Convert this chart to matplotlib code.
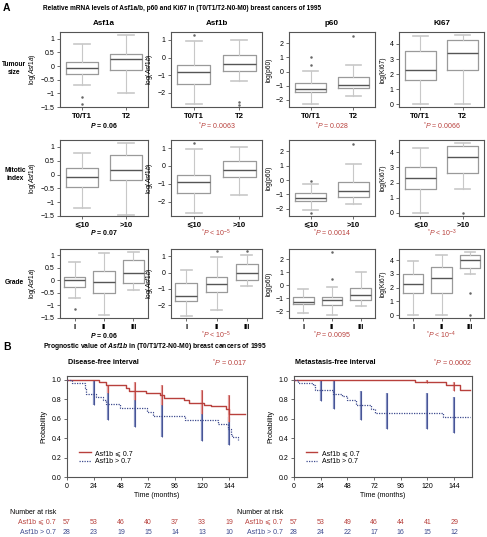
import matplotlib
matplotlib.use("Agg")
import matplotlib.pyplot as plt
from matplotlib.transforms import blended_transform_factory

plt.rcParams["font.family"] = ["Liberation Sans", "DejaVu Sans"]
plt.rcParams["mathtext.fontset"] = "custom"
plt.rcParams["mathtext.rm"] = "Liberation Sans"
plt.rcParams["mathtext.it"] = "Liberation Sans:italic"
plt.rcParams["mathtext.bf"] = "Liberation Sans:italic:bold"

W, H = 487, 537

# ---- panel A data ----
genes = ["Asf1a", "Asf1b", "p60", "Ki67"]
gene_labels = [r"log($\mathit{Asf1a}$)", r"log($\mathit{Asf1b}$)", "log(p60)", "log(Ki67)"]
row_names = ["Tumour\nsize", "Mitotic\nindex", "Grade"]
groups = [["T0/T1", "T2"], ["⩽10", ">10"], ["I", "II", "III"]]

# each box: (whislo, q1, med, q3, whishi, fliers)
size_asf1a = [(-0.7, -0.3, -0.08, 0.15, 0.8, [-1.15, -1.4]), (-1.0, -0.15, 0.25, 0.45, 1.15, [])]
size_asf1b = [(-2.65, -1.5, -0.8, -0.4, 0.95, [1.3]), (-1.35, -0.75, -0.35, 0.15, 1.0, [-2.5, -2.7])]
size_p60 = [(-2.3, -1.45, -1.25, -0.8, 0.05, [0.5, 1.0]), (-1.7, -1.15, -0.95, -0.4, 0.5, [2.5])]
size_ki67 = [(0.0, 1.6, 2.3, 3.55, 4.55, []), (0.0, 2.3, 3.4, 4.25, 4.6, [])]

mit_asf1a = [(-1.2, -0.45, -0.08, 0.22, 0.78, []), (-1.45, -0.2, 0.15, 0.72, 1.15, [])]
mit_asf1b = [(-2.65, -1.5, -0.9, -0.5, 0.95, [1.3]), (-1.6, -0.6, -0.2, 0.3, 1.05, [])]
mit_p60 = [(-2.05, -1.45, -1.25, -0.9, -0.3, [-2.3, -0.05]), (-1.65, -1.2, -0.75, -0.15, 1.1, [2.55])]
mit_ki67 = [(0.0, 1.6, 2.3, 3.0, 4.25, []), (1.6, 2.65, 3.7, 4.4, 4.6, [0.0])]

grade_asf1a = [(-0.7, -0.25, 0.0, 0.15, 0.75, [-1.15]), (-1.4, -0.5, -0.08, 0.38, 1.1, []),
               (-0.4, -0.1, 0.3, 0.8, 1.15, [])]
grade_asf1b = [(-2.65, -1.75, -1.45, -0.65, 0.15, []), (-2.3, -1.2, -0.7, -0.25, 0.95, [1.3]),
               (-0.8, -0.45, -0.05, 0.5, 1.05, [1.35])]
grade_p60 = [(-2.1, -1.45, -1.25, -0.9, -0.25, []), (-2.3, -1.5, -1.1, -0.85, -0.1, [0.5, 2.55]),
             (-1.6, -1.15, -0.7, -0.2, 1.05, [])]
grade_ki67 = [(0.0, 1.6, 2.3, 3.0, 3.9, []), (0.0, 1.6, 2.7, 3.5, 4.35, []),
              (3.0, 3.4, 4.0, 4.4, 4.6, [1.6, 0.0])]

boxes = [[size_asf1a, size_asf1b, size_p60, size_ki67],
         [mit_asf1a, mit_asf1b, mit_p60, mit_ki67],
         [grade_asf1a, grade_asf1b, grade_p60, grade_ki67]]

p_size = [r"$\mathbf{P}$ = 0.06", r"$^{*}\mathit{P}$ = 0.0063", r"$^{*}\mathit{P}$ = 0.028", r"$^{*}\mathit{P}$ = 0.0066"]
p_mit = [r"$\mathbf{P}$ = 0.07", r"$^{*}\mathit{P}$ < 10$^{-5}$", r"$^{*}\mathit{P}$ = 0.0014", r"$^{*}\mathit{P}$ < 10$^{-3}$"]
p_grade = [r"$\mathbf{P}$ = 0.06", r"$^{*}\mathit{P}$ < 10$^{-5}$", r"$^{*}\mathit{P}$ = 0.0095", r"$^{*}\mathit{P}$ < 10$^{-4}$"]
p_vals = [p_size, p_mit, p_grade]
p_sig = [[False, True, True, True], [False, True, True, True], [False, True, True, True]]

ylims = [(-1.5, 1.25), (-2.8, 1.45), (-2.5, 2.8), (-0.2, 4.8)]
yticks = [[-1.5, -1, -0.5, 0, 0.5, 1], [-2, -1, 0, 1], [-2, -1, 0, 1, 2], [0, 1, 2, 3, 4]]

# ---- panel B data ----
months = [0, 24, 48, 72, 96, 120, 144]
ci_times = [24, 36, 60, 84, 120, 144]

dfi_low_t = [0, 28, 35, 52, 55, 70, 83, 86, 104, 108, 122, 128, 141, 144, 158]
dfi_low_s = [1.0, 0.98, 0.945, 0.92, 0.885, 0.86, 0.84, 0.815, 0.79, 0.766, 0.745, 0.73, 0.70, 0.646, 0.646]
dfi_high_t = [0, 4, 16, 17, 26, 32, 35, 47, 71, 76, 105, 134, 143, 146, 147, 152]
dfi_high_s = [1.0, 0.97, 0.92, 0.855, 0.82, 0.79, 0.756, 0.711, 0.67, 0.63, 0.584, 0.543, 0.498, 0.447, 0.41, 0.378]
dfi_low_ci_t = [36, 60, 84, 120, 144]
dfi_low_ci_lo = [0.87, 0.79, 0.74, 0.65, 0.57]
dfi_low_ci_hi = [0.95, 0.98, 0.945, 0.90, 0.84]
dfi_high_ci_lo = [0.74, 0.584, 0.51, 0.41, 0.37, 0.33]
dfi_high_ci_hi = [1.0, 0.945, 0.86, 0.84, 0.77, 0.62]

mfi_low_t = [0, 109, 137, 149, 158]
mfi_low_s = [1.0, 0.98, 0.95, 0.893, 0.893]
mfi_high_t = [0, 3.5, 17, 19, 35, 43.5, 48, 55.5, 69, 73, 134, 158]
mfi_high_s = [1.0, 0.97, 0.945, 0.893, 0.852, 0.83, 0.79, 0.74, 0.70, 0.66, 0.62, 0.62]
mfi_low_ci_t = [120, 144]
mfi_low_ci_lo = [0.97, 0.89]
mfi_low_ci_hi = [1.0, 0.98]
mfi_high_ci_lo = [0.78, 0.70, 0.59, 0.49, 0.49, 0.45]
mfi_high_ci_hi = [1.0, 1.0, 0.89, 0.87, 0.87, 0.82]

risk_low_dfi = [57, 53, 46, 40, 37, 33, 19]
risk_high_dfi = [28, 23, 19, 15, 14, 13, 10]
risk_low_mfi = [57, 53, 49, 46, 44, 41, 29]
risk_high_mfi = [28, 24, 22, 17, 16, 15, 12]

RED = "#b8403c"
RED_CI = "#e49a98"
BLUE = "#3d4a8e"
BLUE_CI = "#7482b8"
SPINE = "#555555"
FS = 5.0

fig = plt.figure(figsize=(W / 100, H / 100), dpi=100)


def px_axes(x0, y0, x1, y1):
    return fig.add_axes([x0 / W, 1 - y1 / H, (x1 - x0) / W, (y1 - y0) / H])


def ftext(x, y, s, **kw):
    fig.text(x / W, 1 - y / H, s, **kw)


def fmt(v):
    return ("%g" % v).replace("-", "\u2212")


def style_axes(ax):
    for sp in ax.spines.values():
        sp.set_color(SPINE)
        sp.set_linewidth(0.8)
    ax.tick_params(length=2, width=0.6, color=SPINE, labelsize=FS, pad=2)


cols = [(60, 148), (171, 262), (289, 375), (399, 484)]
rows = [(32, 107), (140, 216), (249, 318)]
p_y = [126, 233, 335]
row_pos = [(14, 69), (15, 174), (14, 283)]

ftext(3, 8, "A", fontsize=7.5, fontweight="bold", va="center")
ftext(43, 8, "Relative mRNA levels of Asf1a/b, p60 and Ki67 in (T0/T1/T2-N0-M0) breast cancers of 1995",
      fontsize=4.7, fontweight="bold", va="center")

for r in range(3):
    y0, y1 = rows[r]
    ftext(row_pos[r][0], row_pos[r][1], row_names[r], fontsize=4.8, fontweight="bold",
          ha="center", va="center", linespacing=1.2)
    for c in range(4):
        x0, x1 = cols[c]
        ax = px_axes(x0, y0, x1, y1)
        stats = []
        for lo, q1, med, q3, hi, fl in boxes[r][c]:
            stats.append(dict(whislo=lo, q1=q1, med=med, q3=q3, whishi=hi, fliers=fl))
        pos = list(range(1, len(stats) + 1))
        ax.bxp(stats, positions=pos, widths=0.72, showfliers=True,
               boxprops=dict(color="#9a9a9a", lw=0.9),
               medianprops=dict(color="#555555", lw=1.0),
               whiskerprops=dict(color="#c8c8c8", lw=0.8),
               capprops=dict(color="#c8c8c8", lw=1.2),
               flierprops=dict(marker=".", markersize=1.6, markerfacecolor="#666666",
                               markeredgecolor="#666666", linestyle="none"))
        ax.set_xlim(0.5, len(stats) + 0.5)
        ax.set_ylim(*ylims[c])
        ax.set_yticks(yticks[c])
        ax.set_yticklabels([fmt(v) for v in yticks[c]])
        ax.set_xticks(pos)
        style_axes(ax)
        ax.set_xticklabels(groups[r], fontweight="bold", fontsize=5.6)
        ax.set_ylabel(gene_labels[c], fontsize=4.8, labelpad=2)
        if r == 0:
            ax.set_title(genes[c], fontsize=5.8, fontweight="bold", pad=5)
        if p_sig[r][c]:
            ftext((x0 + x1) / 2, p_y[r], p_vals[r][c], fontsize=5.0, color=RED, ha="center", va="center")
        else:
            ftext((x0 + x1) / 2, p_y[r], p_vals[r][c], fontsize=5.0, fontweight="bold",
                  ha="center", va="center")

# ---- panel B ----
ftext(3, 347, "B", fontsize=7.5, fontweight="bold", va="center")
ftext(43, 347, r"Prognostic value of $\mathbf{Asf1b}$ in (T0/T1/T2-N0-M0) breast cancers of 1995",
      fontsize=4.9, fontweight="bold", va="center")

km = [
    ((67, 376, 247, 477), "Disease-free interval", r"$^{*}\mathit{P}$ = 0.017",
     dfi_low_t, dfi_low_s, dfi_high_t, dfi_high_s,
     dfi_low_ci_t, dfi_low_ci_lo, dfi_low_ci_hi, dfi_high_ci_lo, dfi_high_ci_hi,
     risk_low_dfi, risk_high_dfi),
    ((294, 376, 472, 477), "Metastasis-free interval", r"$^{*}\mathit{P}$ = 0.0002",
     mfi_low_t, mfi_low_s, mfi_high_t, mfi_high_s,
     mfi_low_ci_t, mfi_low_ci_lo, mfi_low_ci_hi, mfi_high_ci_lo, mfi_high_ci_hi,
     risk_low_mfi, risk_high_mfi),
]

for (box, title, pval, lt, ls, ht, hs, lct, lclo, lchi, hclo, hchi, rlow, rhigh) in km:
    x0, y0, x1, y1 = box
    ax = px_axes(x0, y0, x1, y1)
    ax.vlines(ci_times, hclo, hchi, color=BLUE_CI, lw=1.6, alpha=0.9, zorder=2)
    ax.vlines(ci_times, hclo, hchi, color=BLUE, lw=0.6, zorder=2)
    ax.vlines(lct, lclo, lchi, color=RED_CI, lw=1.6, zorder=2)
    ax.vlines(lct, lclo, lchi, color=RED, lw=0.6, zorder=2)
    ax.step(lt, ls, where="post", color=RED, lw=1.0, label="Asf1b ⩽ 0.7", zorder=3)
    ax.step(ht, hs, where="post", color=BLUE, lw=0.9, ls=(0, (1, 1)), label="Asf1b > 0.7", zorder=3)
    ax.set_xlim(0, 160)
    ax.set_ylim(0, 1.04)
    ax.set_xticks(months)
    ax.set_yticks([0, 0.2, 0.4, 0.6, 0.8, 1.0])
    ax.set_yticklabels(["0.0", "0.2", "0.4", "0.6", "0.8", "1.0"])
    ax.set_ylabel("Probability", fontsize=FS, labelpad=3)
    ax.set_xlabel("Time (months)", fontsize=FS, labelpad=2)
    style_axes(ax)
    ax.legend(loc="lower left", bbox_to_anchor=(0.05, 0.08), frameon=False, fontsize=FS,
              handlelength=1.6, labelspacing=0.25, handletextpad=0.6, borderpad=0)
    ftext(x0 + 1, 363, title, fontsize=5.2, fontweight="bold", va="center")
    ftext(x1, 363, pval, fontsize=5.2, color=RED, ha="right", va="center")

    ftext(x0 - 57, 512, "Number at risk", fontsize=FS, va="center")
    ftext(x0 - 11, 522, "Asf1b ⩽ 0.7", fontsize=FS, color=RED, ha="right", va="center")
    ftext(x0 - 11, 532, "Asf1b > 0.7", fontsize=FS, color=BLUE, ha="right", va="center")
    tr = blended_transform_factory(ax.transData, fig.transFigure)
    for m, a, b in zip(months, rlow, rhigh):
        ax.text(m, 1 - 522 / H, str(a), transform=tr, fontsize=FS, color=RED, ha="center", va="center")
        ax.text(m, 1 - 532 / H, str(b), transform=tr, fontsize=FS, color=BLUE, ha="center", va="center")

fig.savefig("out.png", dpi=100)
